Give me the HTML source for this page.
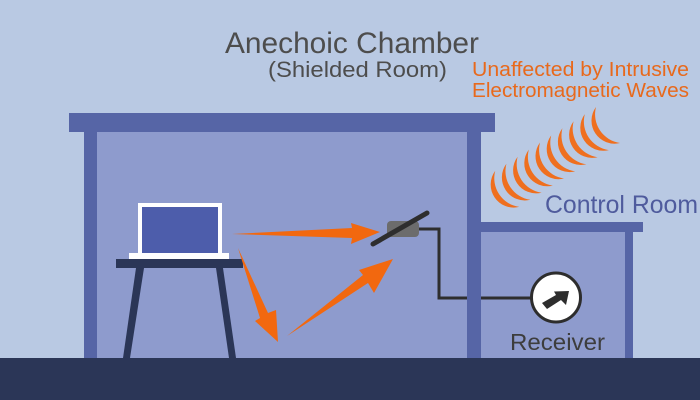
<!DOCTYPE html>
<html><head><meta charset="utf-8"><style>
html,body{margin:0;padding:0;background:#b9c9e3;}
svg{display:block;}
text{font-family:"Liberation Sans",sans-serif;}
</style></head><body>
<svg width="700" height="400" viewBox="0 0 700 400" xmlns="http://www.w3.org/2000/svg">
<rect x="0" y="0" width="700" height="400" fill="#b9c9e3"/>
<!-- chamber interior -->
<rect x="97" y="132" width="370" height="227" fill="#8e9bcd"/>
<!-- control room interior -->
<rect x="481" y="232" width="144" height="127" fill="#8e9bcd"/>
<!-- cable -->
<polyline points="418,229 439,229 439,298 532,298" fill="none" stroke="#2e2e2e" stroke-width="3"/>
<!-- walls -->
<rect x="69" y="113" width="426" height="19" fill="#5665a6"/>
<rect x="84" y="132" width="13" height="227" fill="#5665a6"/>
<rect x="467" y="132" width="14" height="227" fill="#5665a6"/>
<rect x="481" y="222" width="162" height="10" fill="#5665a6"/>
<rect x="625" y="232" width="8" height="127" fill="#5665a6"/>
<!-- floor -->
<rect x="0" y="358" width="700" height="42" fill="#2b3657"/>
<!-- table -->
<rect x="116" y="259" width="127" height="9" fill="#2b3657"/>
<polygon points="136,268 144,268 130,358 123,358" fill="#2b3657"/>
<polygon points="216,268 223,268 236,358 229,358" fill="#2b3657"/>
<!-- laptop -->
<rect x="138" y="203" width="84" height="51" fill="#ffffff"/>
<rect x="142" y="207" width="76" height="46" fill="#4d5dab"/>
<rect x="129" y="253" width="100" height="6" fill="#ffffff"/>
<!-- orange arrows -->
<polygon points="232,234 352,228 351,223 380,232 351,244 352,238" fill="#f2680f"/>
<polygon points="238,248 268,313 276,310 278,342 255,321 260,318" fill="#f2680f"/>
<polygon points="287,336 363,275 359,270 393,259 374,293 368,283" fill="#f2680f"/>
<!-- antenna -->
<rect x="387" y="221" width="32" height="16" rx="4" fill="#6c6c6c"/>
<line x1="373" y1="244" x2="427" y2="213" stroke="#2e2e2e" stroke-width="5" stroke-linecap="round"/>
<!-- receiver -->
<circle cx="556" cy="297.5" r="24.5" fill="#ffffff" stroke="#2d2d2d" stroke-width="3"/>
<polygon points="542,303 556,295 554,291.5 569,291 566,305 561,300 547,309" fill="#2d2d2d"/>
<!-- waves -->
<g fill="#ef6f1f">
<path transform="translate(596,107)" d="M0,0 A23,23 0 0 0 24,36 A29,29 0 0 1 0,0 Z"/>
<path transform="translate(584.8,114.1)" d="M0,0 A23,23 0 0 0 24,36 A29,29 0 0 1 0,0 Z"/>
<path transform="translate(573.6,121.2)" d="M0,0 A23,23 0 0 0 24,36 A29,29 0 0 1 0,0 Z"/>
<path transform="translate(562.4,128.3)" d="M0,0 A23,23 0 0 0 24,36 A29,29 0 0 1 0,0 Z"/>
<path transform="translate(551.2,135.4)" d="M0,0 A23,23 0 0 0 24,36 A29,29 0 0 1 0,0 Z"/>
<path transform="translate(540,142.5)" d="M0,0 A23,23 0 0 0 24,36 A29,29 0 0 1 0,0 Z"/>
<path transform="translate(528.8,149.6)" d="M0,0 A23,23 0 0 0 24,36 A29,29 0 0 1 0,0 Z"/>
<path transform="translate(517.6,156.7)" d="M0,0 A23,23 0 0 0 24,36 A29,29 0 0 1 0,0 Z"/>
<path transform="translate(506.4,163.8)" d="M0,0 A23,23 0 0 0 24,36 A29,29 0 0 1 0,0 Z"/>
<path transform="translate(495.2,170.9)" d="M0,0 A23,23 0 0 0 24,36 A29,29 0 0 1 0,0 Z"/>
</g>
<!-- text -->
<text x="225" y="53" font-size="30" fill="#4d4d4d" textLength="254" lengthAdjust="spacingAndGlyphs">Anechoic Chamber</text>
<text x="268" y="77" font-size="22" fill="#4d4d4d" textLength="179" lengthAdjust="spacingAndGlyphs">(Shielded Room)</text>
<text x="472" y="76" font-size="20" fill="#e8691c" textLength="217" lengthAdjust="spacingAndGlyphs">Unaffected by Intrusive</text>
<text x="472" y="97" font-size="20" fill="#e8691c" textLength="217" lengthAdjust="spacingAndGlyphs">Electromagnetic Waves</text>
<text x="545" y="213" font-size="25" fill="#4f5b9d" textLength="153" lengthAdjust="spacingAndGlyphs">Control Room</text>
<text x="510" y="350" font-size="23" fill="#3d3d3d" textLength="95" lengthAdjust="spacingAndGlyphs">Receiver</text>
</svg>
</body></html>
